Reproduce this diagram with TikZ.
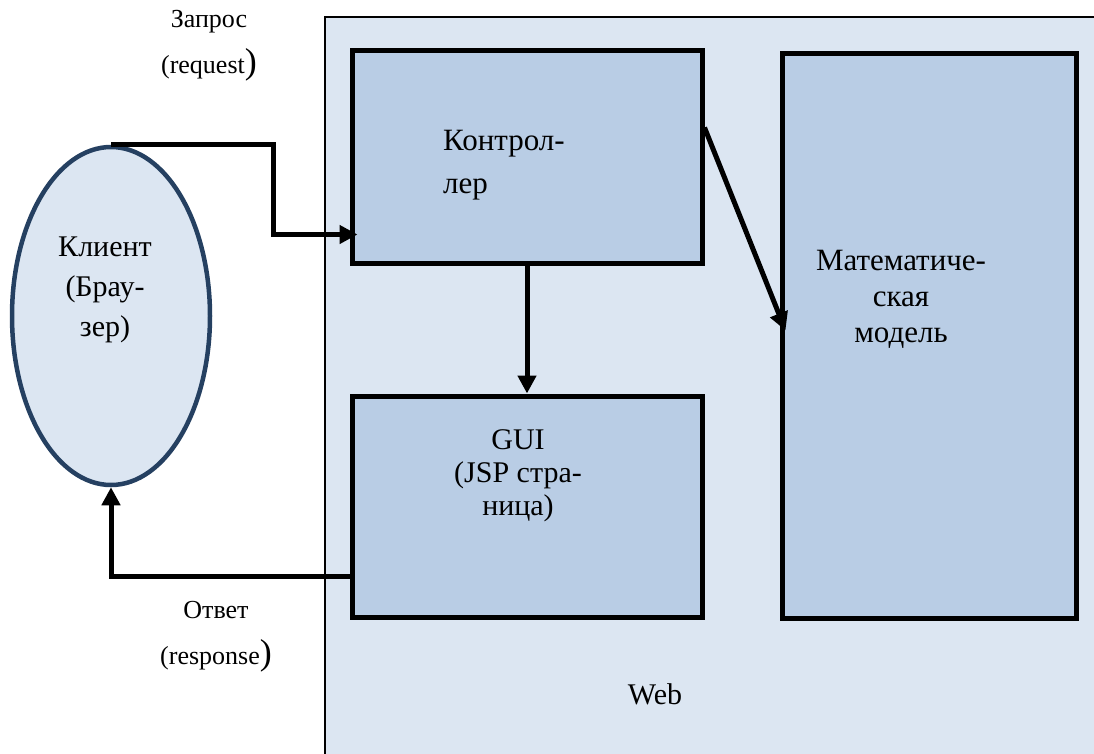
\documentclass[tikz,border=0pt]{standalone}
\usepackage{fontspec}
\setmainfont{Liberation Serif}
\newfontfamily\timesfont{Liberation Serif}
\usetikzlibrary{arrows.meta,calc,shapes.geometric}

\definecolor{webfill}{HTML}{DCE6F2}
\definecolor{boxfill}{HTML}{B9CDE5}
\definecolor{clientline}{HTML}{254061}

\begin{document}
\begin{tikzpicture}[x=1pt,y=-1pt,>={Triangle[length=18pt,width=18pt]},
flow/.style={->,line width=5pt},
block/.style={draw,line width=5pt,fill=boxfill,inner sep=0pt},
lbl/.style={inner sep=0pt,align=center,font=\timesfont\fontsize{30}{38}\selectfont},
note/.style={inner sep=0pt,align=center,font=\timesfont\fontsize{26}{46}\selectfont}]
\useasboundingbox (0,0) rectangle (1094,753);
\clip (0,0) rectangle (1094,753);
\node[draw,line width=1.5pt,fill=webfill,inner sep=0pt,anchor=north west,minimum width=800pt,minimum height=760pt] (web) at (324,16) {};
\node[lbl] (webtext) at (655,694) {Web};
% boxes
\node[block,minimum width=350pt,minimum height=213pt] (ctrl) at (527,156.5) {};
\node[block,minimum width=294pt,minimum height=565pt] (model) at (929,335.5) {};
\node[block,minimum width=350pt,minimum height=221pt] (gui) at (527,506.5) {};
\node[ellipse,draw=clientline,line width=4.5pt,fill=webfill,inner sep=0pt,minimum width=198pt,minimum height=338pt] (client) at (111,316) {};
% texts
\node[lbl,font=\timesfont\fontsize{30}{40}\selectfont] (clienttext) at (105,290) {Клиент\\(Брау-\\зер)};
\node[lbl,align=left,anchor=west,font=\timesfont\fontsize{31}{43}\selectfont] (ctrltext) at (443,165) {Контрол-\\лер};
\node[lbl,font=\timesfont\fontsize{31}{36}\selectfont] (modeltext) at (901,299) {Математиче-\\ская\\модель};
\node[lbl,font=\timesfont\fontsize{30}{33}\selectfont] (guitext) at (518,476) {GUI\\(JSP стра-\\ница)};
\node[note] (req) at (209,46) {Запрос\\(request{\fontsize{36}{36}\selectfont)}};
\node[note] (resp) at (216,637) {Ответ\\(response{\fontsize{36}{36}\selectfont)}};
% arrows
\draw[flow] (client.north) -- ++(162,0) |- ($(ctrl.south west)+(8,-31)$);
\draw[flow] ($(ctrl.north east)+(0,80)$) -- ($(model.west)+(6,-5)$);
\draw[flow] (ctrl.south) -- (gui.north);
\draw[flow] ($(gui.west)+(0,70)$) -| (client.south);
\end{tikzpicture}
\end{document}
